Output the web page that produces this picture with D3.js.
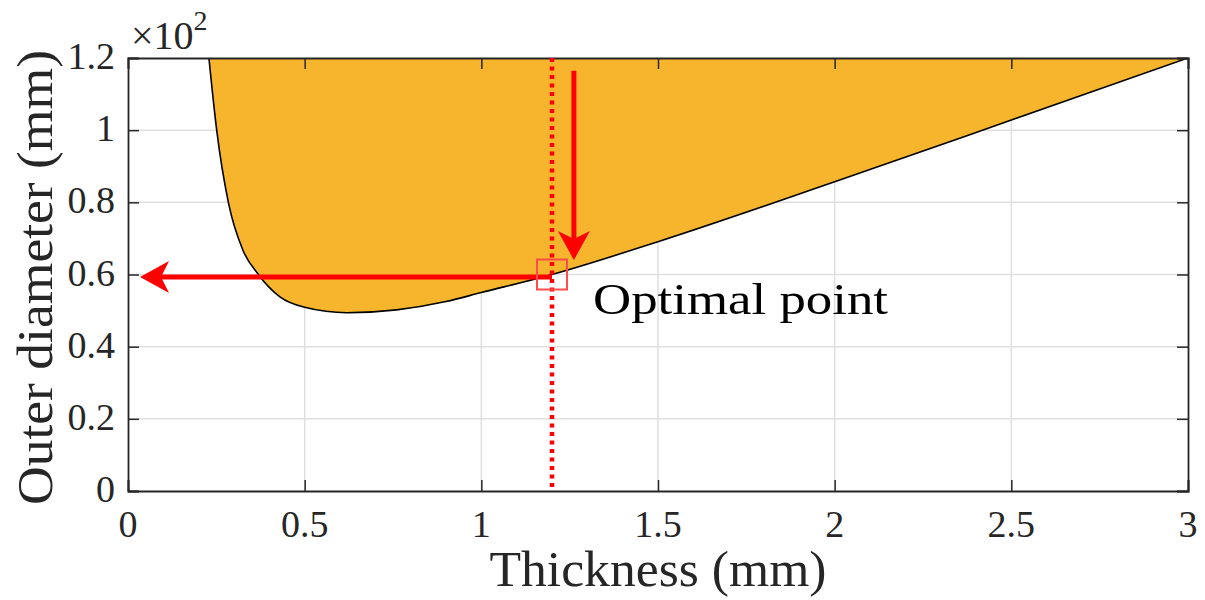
<!DOCTYPE html>
<html>
<head>
<meta charset="utf-8">
<script src="https://cdn.jsdelivr.net/npm/d3@7"></script>
<style>
  body { margin: 0; background: #fff; }
  text { font-family: "Liberation Serif", "DejaVu Serif", serif; fill: #262626; }
</style>
</head>
<body>
<div id="chart"></div>
<script>
// lower boundary of the feasible region (diameter in units of 10^2 mm)
const thickness = [0.229, 0.251, 0.284, 0.325, 0.369, 0.43, 0.5, 0.62, 0.76, 0.9, 1.0, 1.2, 1.5, 2.0, 2.5, 3.0]
const diameter = [1.2, 1.0, 0.8, 0.668, 0.6, 0.538, 0.509, 0.494, 0.502, 0.525, 0.55, 0.6, 0.691, 0.857, 1.028, 1.2]
const xTicks = [0, 0.5, 1, 1.5, 2, 2.5, 3]
const yTicks = [0, 0.2, 0.4, 0.6, 0.8, 1, 1.2]
const optimalPoint = [1.2, 0.6]
const arrowFrom = [[1.2, 0.593], [1.262, 1.165]]
const arrowTo = [[0.034, 0.593], [1.262, 0.64]]

const width = 1205, height = 600
const pLeft = 128, pRight = 1188, pTop = 58, pBottom = 491

const svg = d3.select("#chart").append("svg")
    .attr("width", width)
    .attr("height", height)

const x = d3.scaleLinear().domain([0, 3]).range([pLeft, pRight])
const y = d3.scaleLinear().domain([0, 1.2]).range([pBottom, pTop])

// grid
svg.append("g").selectAll("line").data(xTicks.slice(1, -1)).enter().append("line")
    .attr("x1", d => x(d)).attr("x2", d => x(d))
    .attr("y1", pTop).attr("y2", pBottom)
    .attr("stroke", "#dfdfdf").attr("stroke-width", 1.5)
svg.append("g").selectAll("line").data(yTicks.slice(1, -1)).enter().append("line")
    .attr("y1", d => y(d)).attr("y2", d => y(d))
    .attr("x1", pLeft).attr("x2", pRight)
    .attr("stroke", "#dfdfdf").attr("stroke-width", 1.5)

const pts = thickness.map((t, i) => [t, diameter[i]])

svg.append("clipPath").attr("id", "plotClip").append("rect")
    .attr("x", pLeft).attr("y", pTop).attr("width", pRight - pLeft).attr("height", pBottom - pTop)

const plot = svg.append("g").attr("clip-path", "url(#plotClip)")

const area = d3.area()
    .x(d => x(d[0]))
    .y0(y(1.2))
    .y1(d => y(d[1]))
    .curve(d3.curveMonotoneX)

plot.append("path").datum(pts)
    .attr("d", area)
    .attr("fill", "#f6b52c")

plot.append("path").datum(pts)
    .attr("d", d3.line().x(d => x(d[0])).y(d => y(d[1])).curve(d3.curveMonotoneX))
    .attr("fill", "none")
    .attr("stroke", "#000")
    .attr("stroke-width", 1.6)

// axes box with inward ticks on all sides
const tickLen = 11
const axisColor = "#262626"
svg.append("g").call(d3.axisBottom(x).tickValues(xTicks).tickSize(-tickLen).tickFormat(""))
    .attr("transform", "translate(0," + pBottom + ")")
svg.append("g").call(d3.axisTop(x).tickValues(xTicks).tickSize(-tickLen).tickFormat(""))
    .attr("transform", "translate(0," + pTop + ")")
svg.append("g").call(d3.axisLeft(y).tickValues(yTicks).tickSize(-tickLen).tickFormat(""))
    .attr("transform", "translate(" + pLeft + ",0)")
svg.append("g").call(d3.axisRight(y).tickValues(yTicks).tickSize(-tickLen).tickFormat(""))
    .attr("transform", "translate(" + pRight + ",0)")
svg.selectAll(".domain").attr("stroke", axisColor).attr("stroke-width", 1.8)
svg.selectAll(".tick line").attr("stroke", axisColor).attr("stroke-width", 1.5)

// tick labels
svg.append("g").selectAll("text").data(xTicks).enter().append("text")
    .attr("x", d => x(d)).attr("y", 537)
    .attr("text-anchor", "middle")
    .attr("font-size", 38)
    .text(d => String(d))
svg.append("g").selectAll("text").data(yTicks).enter().append("text")
    .attr("x", 115).attr("y", d => y(d) + 11)
    .attr("text-anchor", "end")
    .attr("font-size", 38)
    .text(d => String(d))

// exponent
const expo = svg.append("text").attr("x", 131).attr("y", 49).attr("font-size", 40)
expo.append("tspan").text("×10")
expo.append("tspan").attr("font-size", 28).attr("dy", -19).text("2")

// axis labels
svg.append("text")
    .attr("x", (pLeft + pRight) / 2).attr("y", 586)
    .attr("text-anchor", "middle")
    .attr("font-size", 50)
    .attr("textLength", 337)
    .attr("lengthAdjust", "spacingAndGlyphs")
    .text("Thickness (mm)")
svg.append("text")
    .attr("transform", "translate(52," + ((pTop + pBottom) / 2 + 3) + ") rotate(-90)")
    .attr("text-anchor", "middle")
    .attr("font-size", 50)
    .attr("textLength", 455)
    .attr("lengthAdjust", "spacingAndGlyphs")
    .text("Outer diameter (mm)")

// annotations
svg.append("line")
    .attr("x1", x(optimalPoint[0])).attr("x2", x(optimalPoint[0]))
    .attr("y1", pTop).attr("y2", pBottom)
    .attr("stroke", "#ff0000").attr("stroke-width", 4.5)
    .attr("stroke-dasharray", "4,4.5")

const headLen = 29, headHalf = 16, notch = 21
arrowFrom.forEach((f, i) => {
    const x1 = x(f[0]), y1 = y(f[1])
    const x2 = x(arrowTo[i][0]), y2 = y(arrowTo[i][1])
    const ang = Math.atan2(y2 - y1, x2 - x1)
    const len = Math.hypot(x2 - x1, y2 - y1)
    const g = svg.append("g")
        .attr("transform", "translate(" + x1 + "," + y1 + ") rotate(" + (ang * 180 / Math.PI) + ")")
    g.append("line")
        .attr("x1", 0).attr("y1", 0).attr("x2", len - notch + 2).attr("y2", 0)
        .attr("stroke", "#ff0000").attr("stroke-width", 5)
    g.append("path")
        .attr("d", "M" + len + ",0L" + (len - headLen) + "," + (-headHalf) + "L" + (len - notch) + ",0L" + (len - headLen) + "," + headHalf + "Z")
        .attr("fill", "#ff0000")
})

svg.append("rect")
    .attr("x", x(optimalPoint[0]) - 15).attr("y", y(optimalPoint[1]) - 15)
    .attr("width", 30).attr("height", 30)
    .attr("fill", "none")
    .attr("stroke", "#ff4d4d").attr("stroke-width", 2)

svg.append("text")
    .attr("x", 593).attr("y", 314)
    .attr("font-size", 44)
    .style("fill", "#000")
    .attr("textLength", 295)
    .attr("lengthAdjust", "spacingAndGlyphs")
    .text("Optimal point")
</script>
</body>
</html>
